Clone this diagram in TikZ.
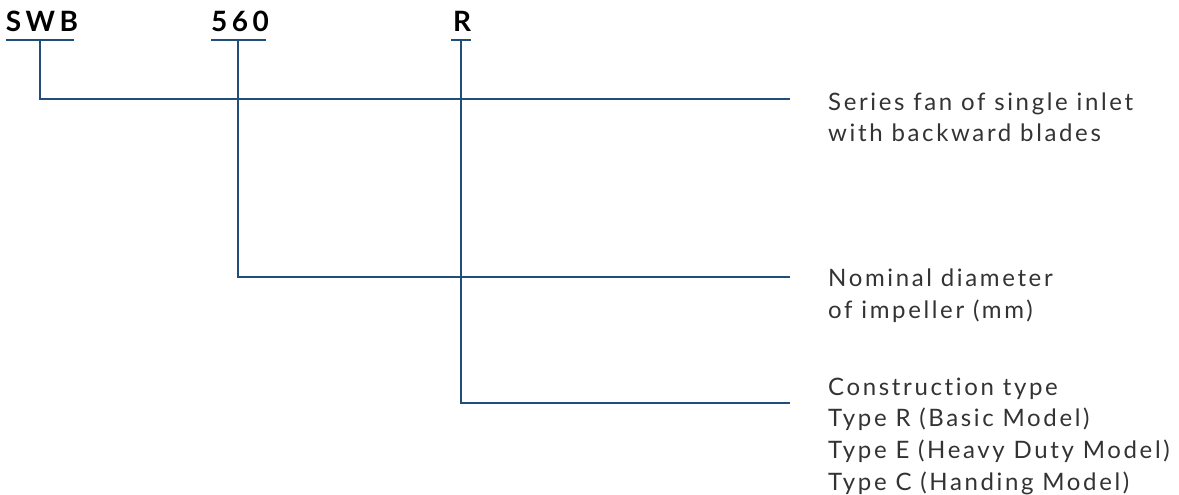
\documentclass[tikz,border=0pt]{standalone}
\usepackage{fontspec}
\setmainfont{Lato}[Ligatures=NoCommon]
\definecolor{lineblue}{RGB}{31,78,122}
\definecolor{txtgrey}{RGB}{51,51,51}
\begin{document}
\begin{tikzpicture}[x=1pt,y=-1pt,
  conn/.style={draw=lineblue,line width=2pt},
  code/.style={anchor=base,inner sep=0pt,font=\fontsize{28}{30}\selectfont\bfseries\addfontfeature{LetterSpace=16},text=black},
  desc/.style={anchor=base west,inner sep=0pt,align=left,text=txtgrey,font=\fontsize{24}{31.6}\selectfont\addfontfeature{LetterSpace=11,RawFeature=-liga}}]
\useasboundingbox (0,0) rectangle (1179,495);
% code letters
\node[code] (swb) at (42,32) {SWB};
\node[code] (n560) at (240,32) {560};
\node[code] (r) at (462,32) {R};
% underlines
\coordinate (swbL) at (6,40); \coordinate (swbR) at (74,40);
\coordinate (nL) at (211,40); \coordinate (nR) at (266,40);
\coordinate (rL) at (451,40); \coordinate (rR) at (471,40);
\draw[conn] (swbL) -- (swbR);
\draw[conn] (nL) -- (nR);
\draw[conn] (rL) -- (rR);
% joints
\coordinate (swbT) at (40,40); \coordinate (swbC) at (40,99); \coordinate (swbE) at (790,99);
\coordinate (nT) at (238,40); \coordinate (nC) at (238,277); \coordinate (nE) at (790,277);
\coordinate (rT) at (461,40); \coordinate (rC) at (461,403); \coordinate (rE) at (790,403);
\draw[conn] (swbT) -- (swbC) -- (swbE);
\draw[conn] (nT) -- (nC) -- (nE);
\draw[conn] (rT) -- (rC) -- (rE);
% descriptions (base anchor = last line)
\node[desc] (d1) at (828,142) {Series fan of single inlet\\with backward blades};
\node[desc] (d2) at (828,318) {Nominal diameter\\of impeller (mm)};
\node[desc] (d3) at (828,490) {Construction type\\Type R (Basic Model)\\Type E (Heavy Duty Model)\\Type C (Handing Model)};
\end{tikzpicture}
\end{document}
